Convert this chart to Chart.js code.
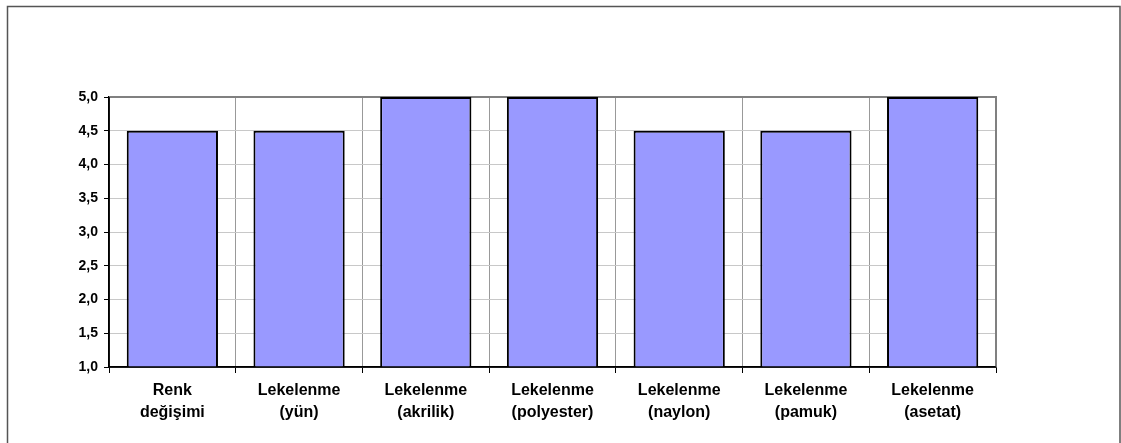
<!DOCTYPE html>
<html><head><meta charset="utf-8">
<script src="https://cdn.jsdelivr.net/npm/chart.js@4/dist/chart.umd.min.js"></script>
<style>html,body{margin:0;padding:0;background:#fff;}#wrap{width:1121px;height:443px;position:relative;}</style>
</head><body><div id="wrap"><canvas id="c" width="1121" height="443"></canvas></div>
<script>
const categories = [
  ['Renk','değişimi'],
  ['Lekelenme','(yün)'],
  ['Lekelenme','(akrilik)'],
  ['Lekelenme','(polyester)'],
  ['Lekelenme','(naylon)'],
  ['Lekelenme','(pamuk)'],
  ['Lekelenme','(asetat)']
];
const values = [4.5, 4.5, 5.0, 5.0, 4.5, 4.5, 5.0];
const yMin = 1.0, yMax = 5.0, yStep = 0.5;

const frame = {
  id: 'frame',
  beforeDraw(chart) {
    const ctx = chart.ctx;
    ctx.save();
    ctx.fillStyle = '#fff';
    ctx.fillRect(0, 0, chart.width, chart.height);
    ctx.strokeStyle = '#555';
    ctx.lineWidth = 1.5;
    ctx.strokeRect(7.5, 6.5, 1112.5, 450);
    ctx.restore();
  },
  beforeDatasetsDraw(chart) {
    const a = chart.chartArea, ctx = chart.ctx;
    ctx.save();
    ctx.strokeStyle = '#808080';
    ctx.lineWidth = 2;
    ctx.beginPath();
    ctx.moveTo(a.left, a.top);
    ctx.lineTo(a.right, a.top);
    ctx.lineTo(a.right, a.bottom);
    ctx.stroke();
    ctx.restore();
  },
  afterDatasetsDraw(chart) {
    const a = chart.chartArea, ctx = chart.ctx;
    ctx.save();
    ctx.strokeStyle = '#000';
    ctx.lineWidth = 1.5;
    ctx.beginPath();
    ctx.moveTo(a.left, a.top);
    ctx.lineTo(a.left, a.bottom);
    ctx.lineTo(a.right, a.bottom);
    ctx.stroke();
    ctx.restore();
  }
};

Chart.defaults.font.family = 'Arial, "Liberation Sans", sans-serif';
Chart.defaults.font.weight = 'bold';
Chart.defaults.font.size = 13;
Chart.defaults.color = '#000';

new Chart(document.getElementById('c'), {
  type: 'bar',
  data: {
    labels: categories,
    datasets: [{
      data: values,
      backgroundColor: '#9999FF',
      borderColor: '#000',
      borderWidth: 2,
      borderSkipped: 'bottom',
      categoryPercentage: 1.0,
      barPercentage: 0.72
    }]
  },
  options: {
    responsive: false,
    animation: false,
    devicePixelRatio: 1,
    layout: { padding: { left: 0, top: 97, right: 125, bottom: 0 } },
    plugins: { legend: { display: false }, tooltip: { enabled: false } },
    scales: {
      x: {
        offset: true,
        grid: { offset: true, color: '#999', lineWidth: 1, tickLength: 6, tickColor: '#000', drawTicks: true },
        border: { display: true, color: '#000', width: 1.5 },
        ticks: { padding: 7, maxRotation: 0, autoSkip: false, font: { size: 16, weight: 'bold', lineHeight: 1.375 } },
        afterFit(s) { s.height = 76; }
      },
      y: {
        min: yMin, max: yMax,
        grid: { color: '#c8c8c8', lineWidth: 1, tickLength: 5, tickColor: '#000' },
        border: { display: true, color: '#000', width: 1.5 },
        ticks: {
          stepSize: yStep, padding: 6,
          font: { size: 14, weight: 'bold' },
          callback: v => v.toFixed(1).replace('.', ',')
        },
        afterFit(s) { s.width = 109; }
      }
    }
  },
  plugins: [frame]
});
</script></body></html>
